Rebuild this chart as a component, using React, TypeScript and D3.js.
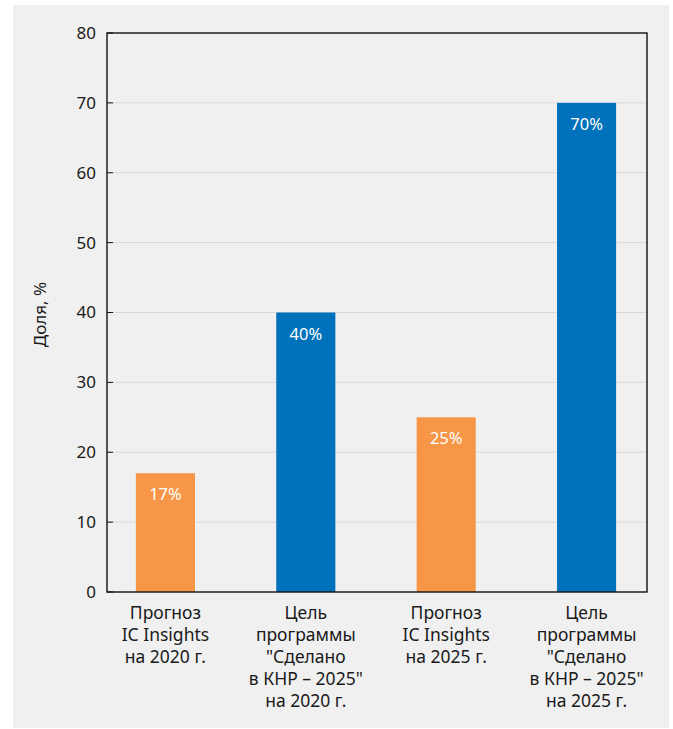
import React from "react";
import * as d3 from "d3";

const categories = ["c1", "c2", "c3", "c4"];
const categoryLabels = [
  ["Прогноз", "IC Insights", "на 2020 г."],
  ["Цель", "программы", "\"Сделано", "в КНР – 2025\"", "на 2020 г."],
  ["Прогноз", "IC Insights", "на 2025 г."],
  ["Цель", "программы", "\"Сделано", "в КНР – 2025\"", "на 2025 г."],
];
const values = [17, 40, 25, 70];
const seriesKind = ["forecast", "goal", "forecast", "goal"];
const yTicks = [0, 10, 20, 30, 40, 50, 60, 70, 80];

const W = 673;
const H = 729;
const left = 107;
const right = 647;
const top = 33;
const bottom = 592;
const font = "'Noto Sans', 'Open Sans', sans-serif";

export default function App() {
  const x = d3.scaleBand<string>().domain(categories).range([left - 2, right]).paddingInner(0.579).paddingOuter(0.22);
  const y = d3.scaleLinear().domain([0, 80]).range([bottom, top]);
  const color = (k: string) => (k === "forecast" ? "#f79646" : "#0071bb");

  return (
    <svg width={W} height={H} style={{ position: "absolute", left: 0, top: 0 }}>
      <rect x={13} y={5} width={656} height={723} fill="#f0f0f0" />
      {yTicks.slice(1, -1).map((t) => (
        <line key={"g" + t} x1={left} x2={right} y1={y(t)} y2={y(t)} stroke="#d9d9d9" strokeWidth={1} />
      ))}
      {values.map((v, i) => (
        <g key={i}>
          <rect
            x={x(categories[i])!}
            y={y(v)}
            width={x.bandwidth()}
            height={bottom - y(v)}
            fill={color(seriesKind[i])}
          />
          <text
            x={x(categories[i])! + x.bandwidth() / 2}
            y={y(v) + 27}
            textAnchor="middle"
            fill="#fff"
            fontFamily={font}
            fontSize={16.5}
          >
            {v}%
          </text>
        </g>
      ))}
      <rect x={left} y={top} width={right - left} height={bottom - top} fill="none" stroke="#111" strokeWidth={1.4} />
      {yTicks.map((t) => (
        <g key={"t" + t}>
          <line x1={left} x2={left + 6} y1={y(t)} y2={y(t)} stroke="#111" strokeWidth={1} />
          <text x={96} y={y(t)} dy="0.35em" textAnchor="end" fontFamily={font} fontSize={17} fill="#1a1a1a">
            {t}
          </text>
        </g>
      ))}
      <text
        transform={`translate(46,${(top + bottom) / 2 + 2}) rotate(-90)`}
        textAnchor="middle"
        fontFamily={font}
        fontSize={17}
        fill="#1a1a1a"
      >
        Доля, %
      </text>
      {categoryLabels.map((lines, i) => (
        <text
          key={"c" + i}
          x={x(categories[i])! + x.bandwidth() / 2}
          y={619}
          textAnchor="middle"
          fontFamily={font}
          fontSize={17.5}
          fill="#1a1a1a"
        >
          {lines.map((l, j) => (
            <tspan key={j} x={x(categories[i])! + x.bandwidth() / 2} y={619 + j * 22}>
              {l}
            </tspan>
          ))}
        </text>
      ))}
    </svg>
  );
}
